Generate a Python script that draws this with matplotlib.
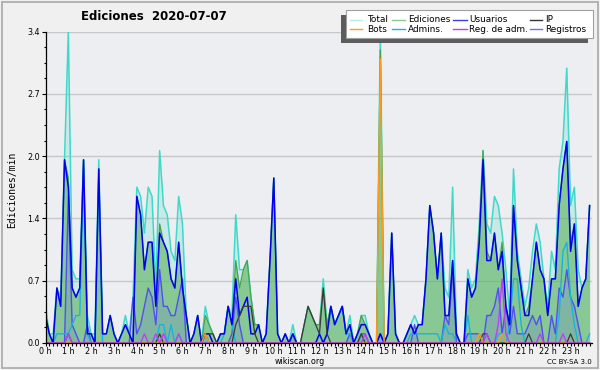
import numpy as np
import matplotlib.pyplot as plt
from matplotlib.lines import Line2D
from matplotlib.patches import Rectangle

# ediciones por minuto, intervalos de 10 min (6 por hora, 0 h .. 23 h 50)
total = [0.4, 0.1, 0.1, 0.6, 0.5, 2.0,  3.4, 0.8, 0.7, 0.7, 2.0, 0.3,
         0.1, 0.1, 2.0, 0.1, 0.1, 0.3,  0.1, 0.0, 0.1, 0.3, 0.1, 0.5,
         1.7, 1.6, 1.2, 1.7, 1.6, 0.6,  2.1, 1.5, 1.4, 1.0, 0.9, 1.6,
         1.3, 0.3, 0.0, 0.1, 0.3, 0.0,  0.4, 0.2, 0.1, 0.0, 0.1, 0.1,
         0.4, 0.3, 1.4, 0.8, 0.8, 0.9,  0.5, 0.2, 0.2, 0.0, 0.1, 0.9,
         1.8, 0.1, 0.0, 0.1, 0.0, 0.2,  0.0, 0.0, 0.2, 0.4, 0.3, 0.2,
         0.2, 0.7, 0.2, 0.4, 0.2, 0.3,  0.4, 0.1, 0.3, 0.0, 0.1, 0.3,
         0.3, 0.1, 0.0, 0.0, 3.4, 0.0,  0.1, 1.2, 0.1, 0.0, 0.0, 0.1,
         0.2, 0.3, 0.2, 0.2, 0.7, 1.5,  1.2, 0.7, 1.2, 0.6, 0.5, 1.7,
         0.1, 0.0, 0.0, 0.8, 0.6, 0.7,  1.3, 2.1, 1.3, 1.2, 1.6, 1.5,
         1.2, 0.8, 0.3, 1.9, 1.0, 0.7,  0.4, 0.6, 1.0, 1.3, 1.1, 0.7,
         0.4, 1.0, 0.8, 1.9, 2.2, 3.0,  1.5, 1.7, 0.8, 0.6, 0.7, 1.5]

ediciones = [0.3, 0.1, 0.0, 0.6, 0.4, 2.0,  1.8, 0.6, 0.5, 0.6, 2.0, 0.1,
             0.1, 0.0, 1.9, 0.1, 0.1, 0.3,  0.1, 0.0, 0.1, 0.2, 0.1, 0.0,
             1.6, 1.4, 0.8, 1.1, 1.1, 0.4,  1.3, 1.1, 1.0, 0.7, 0.6, 1.1,
             0.6, 0.3, 0.0, 0.1, 0.3, 0.0,  0.3, 0.2, 0.1, 0.0, 0.1, 0.1,
             0.4, 0.2, 0.9, 0.6, 0.8, 0.9,  0.5, 0.2, 0.2, 0.0, 0.1, 0.9,
             1.8, 0.1, 0.0, 0.1, 0.0, 0.1,  0.0, 0.0, 0.2, 0.4, 0.3, 0.2,
             0.2, 0.6, 0.2, 0.4, 0.2, 0.3,  0.4, 0.1, 0.2, 0.0, 0.1, 0.3,
             0.2, 0.1, 0.0, 0.0, 3.2, 0.0,  0.1, 1.2, 0.1, 0.0, 0.0, 0.1,
             0.2, 0.1, 0.2, 0.2, 0.7, 1.5,  1.2, 0.7, 1.2, 0.3, 0.3, 0.9,
             0.1, 0.0, 0.0, 0.7, 0.5, 0.6,  1.2, 2.1, 1.0, 0.9, 1.2, 0.8,
             1.1, 0.4, 0.2, 1.5, 0.9, 0.6,  0.3, 0.4, 0.7, 1.1, 0.8, 0.7,
             0.3, 0.7, 0.7, 1.5, 1.9, 2.2,  1.1, 1.3, 0.4, 0.6, 0.7, 1.5]

usuarios = [0.3, 0.1, 0.0, 0.6, 0.4, 2.0,  1.7, 0.6, 0.5, 0.6, 2.0, 0.1,
            0.1, 0.0, 1.9, 0.1, 0.1, 0.3,  0.1, 0.0, 0.1, 0.2, 0.1, 0.0,
            1.6, 1.4, 0.8, 1.1, 1.1, 0.4,  1.2, 1.1, 1.0, 0.7, 0.6, 1.1,
            0.6, 0.3, 0.0, 0.1, 0.3, 0.0,  0.1, 0.1, 0.0, 0.0, 0.1, 0.1,
            0.4, 0.2, 0.7, 0.3, 0.4, 0.5,  0.1, 0.1, 0.2, 0.0, 0.1, 0.9,
            1.8, 0.1, 0.0, 0.1, 0.0, 0.1,  0.0, 0.0, 0.0, 0.0, 0.0, 0.0,
            0.1, 0.0, 0.1, 0.4, 0.2, 0.3,  0.4, 0.1, 0.2, 0.0, 0.1, 0.2,
            0.2, 0.1, 0.0, 0.0, 0.1, 0.0,  0.1, 1.2, 0.1, 0.0, 0.0, 0.1,
            0.2, 0.1, 0.2, 0.2, 0.7, 1.5,  1.2, 0.7, 1.2, 0.3, 0.3, 0.9,
            0.1, 0.0, 0.0, 0.7, 0.5, 0.6,  1.1, 2.0, 0.9, 0.9, 1.2, 0.8,
            1.0, 0.4, 0.2, 1.5, 0.9, 0.6,  0.3, 0.3, 0.7, 1.1, 0.8, 0.7,
            0.3, 0.7, 0.7, 1.5, 1.9, 2.2,  1.0, 1.3, 0.4, 0.6, 0.7, 1.5]

ip = [0.0, 0.0, 0.0, 0.0, 0.0, 0.0,  0.1, 0.0, 0.0, 0.0, 0.0, 0.0,
      0.0, 0.0, 0.0, 0.0, 0.0, 0.0,  0.0, 0.0, 0.0, 0.0, 0.0, 0.0,
      0.0, 0.0, 0.0, 0.0, 0.0, 0.0,  0.1, 0.0, 0.0, 0.0, 0.0, 0.0,
      0.0, 0.0, 0.0, 0.0, 0.0, 0.0,  0.1, 0.1, 0.1, 0.0, 0.0, 0.0,
      0.0, 0.0, 0.2, 0.3, 0.4, 0.4,  0.4, 0.1, 0.0, 0.0, 0.0, 0.0,
      0.0, 0.0, 0.0, 0.0, 0.0, 0.0,  0.0, 0.0, 0.2, 0.4, 0.3, 0.2,
      0.1, 0.6, 0.1, 0.0, 0.0, 0.0,  0.0, 0.0, 0.0, 0.0, 0.0, 0.1,
      0.0, 0.0, 0.0, 0.0, 0.0, 0.0,  0.0, 0.0, 0.0, 0.0, 0.0, 0.0,
      0.0, 0.0, 0.0, 0.0, 0.0, 0.0,  0.0, 0.0, 0.0, 0.0, 0.0, 0.0,
      0.0, 0.0, 0.0, 0.0, 0.0, 0.0,  0.0, 0.1, 0.1, 0.0, 0.0, 0.0,
      0.0, 0.0, 0.0, 0.0, 0.0, 0.0,  0.0, 0.1, 0.0, 0.0, 0.0, 0.0,
      0.0, 0.0, 0.0, 0.0, 0.0, 0.0,  0.1, 0.0, 0.0, 0.0, 0.0, 0.0]

bots = [0.0] * 144
bots_nonzero = {42: 0.1, 88: 3.1, 114: 0.1, 120: 0.1}

admins = [0.0, 0.0, 0.0, 0.1, 0.1, 0.1,  0.1, 0.2, 0.3, 0.3, 1.9, 0.1,
          0.0, 0.0, 1.8, 0.0, 0.0, 0.0,  0.0, 0.0, 0.0, 0.0, 0.0, 0.0,
          0.0, 0.0, 0.0, 0.0, 0.0, 0.0,  0.2, 0.2, 0.0, 0.2, 0.0, 0.1,
          0.0, 0.0, 0.0, 0.0, 0.0, 0.0,  0.0, 0.0, 0.0, 0.0, 0.0, 0.1,
          0.4, 0.2, 0.0, 0.0, 0.0, 0.0,  0.0, 0.0, 0.0, 0.0, 0.0, 0.0,
          0.0, 0.0, 0.0, 0.0, 0.0, 0.0,  0.0, 0.0, 0.0, 0.0, 0.0, 0.0,
          0.0, 0.0, 0.1, 0.4, 0.2, 0.3,  0.4, 0.1, 0.1, 0.0, 0.0, 0.1,
          0.0, 0.0, 0.0, 0.0, 0.0, 0.0,  0.0, 0.0, 0.0, 0.0, 0.0, 0.0,
          0.1, 0.1, 0.1, 0.1, 0.1, 0.1,  0.1, 0.1, 0.0, 0.2, 0.1, 0.1,
          0.0, 0.0, 0.0, 0.3, 0.0, 0.0,  0.0, 0.0, 0.0, 0.0, 0.0, 0.1,
          0.1, 0.0, 0.2, 0.7, 0.7, 0.2,  0.0, 0.0, 0.0, 0.0, 0.0, 0.0,
          0.0, 0.0, 0.0, 0.3, 1.0, 1.1,  0.5, 0.2, 0.0, 0.0, 0.0, 0.1]

reg_adm = [0.0] * 144
reg_adm_nonzero = {6: 0.1, 26: 0.1, 29: 0.1, 31: 0.1, 35: 0.1, 84: 0.1,
                   116: 0.1, 119: 0.2, 120: 0.7, 121: 0.1, 130: 0.1, 136: 0.1}

registros = [0.0, 0.0, 0.0, 0.0, 0.0, 0.0,  1.6, 0.2, 0.1, 0.0, 0.0, 0.2,
             0.0, 0.0, 0.0, 0.0, 0.0, 0.0,  0.0, 0.0, 0.0, 0.0, 0.0, 0.5,
             0.1, 0.2, 0.4, 0.6, 0.5, 0.2,  0.8, 0.4, 0.4, 0.3, 0.3, 0.5,
             0.7, 0.0, 0.0, 0.0, 0.0, 0.0,  0.1, 0.0, 0.0, 0.0, 0.0, 0.0,
             0.0, 0.1, 0.5, 0.2, 0.0, 0.0,  0.0, 0.0, 0.0, 0.0, 0.0, 0.0,
             0.0, 0.0, 0.0, 0.0, 0.0, 0.1,  0.0, 0.0, 0.0, 0.0, 0.0, 0.0,
             0.0, 0.0, 0.0, 0.0, 0.0, 0.0,  0.0, 0.0, 0.1, 0.0, 0.0, 0.1,
             0.1, 0.0, 0.0, 0.0, 0.1, 0.0,  0.0, 0.0, 0.0, 0.0, 0.0, 0.0,
             0.0, 0.2, 0.0, 0.0, 0.0, 0.0,  0.0, 0.0, 0.0, 0.3, 0.2, 0.8,
             0.0, 0.0, 0.0, 0.1, 0.1, 0.1,  0.1, 0.0, 0.3, 0.3, 0.4, 0.6,
             0.1, 0.4, 0.1, 0.4, 0.1, 0.1,  0.1, 0.2, 0.3, 0.2, 0.3, 0.0,
             0.0, 0.3, 0.1, 0.6, 0.5, 0.8,  0.5, 0.4, 0.2, 0.0, 0.0, 0.0]

for k, v in bots_nonzero.items():
    bots[k] = v
for k, v in reg_adm_nonzero.items():
    reg_adm[k] = v

hour_labels = ['%d h' % h for h in range(24)]
legend_labels = ['Total', 'Ediciones', 'Usuarios', 'IP',
                 'Bots', 'Admins.', 'Reg. de adm.', 'Registros']
t = np.arange(144) / 6.0

W, H = 600, 370
def fx(x):
    return x / W
def fy(y):
    return 1 - y / H

fig = plt.figure(figsize=(6, 3.7), dpi=100, facecolor='#f0f0f0')
fig.patches.append(Rectangle((fx(2), fy(368)), fx(596), 366 / H, transform=fig.transFigure,
                             fill=False, edgecolor='#a8a8a8', lw=1.2))

ax = fig.add_axes([fx(45.5), fy(343), fx(591.5 - 45.5), (343 - 31.5) / H])
ax.set_facecolor('#eceef1')
ax.set_xlim(0, 143.5 / 6)
ax.set_ylim(0, 3.4)

c_total = '#3fd9c9'
c_edic = '#49a449'
c_usu = '#0000ee'
c_ip = '#3a3a3a'
c_bots = '#ff9a1a'
c_adm = '#1ab4d8'
c_regadm = '#c040f0'
c_reg = '#5050f0'

ax.fill_between(t, total, color=c_total, alpha=0.2, lw=0)
ax.fill_between(t, ediciones, color='#5db35d', alpha=0.6, lw=0)
ax.fill_between(t, registros, color='#6a7ad0', alpha=0.25, lw=0)
ax.plot(t, total, color=c_total, lw=1.1)
ax.plot(t, ediciones, color=c_edic, lw=0.9)
ax.plot(t, registros, color=c_reg, lw=1.0)
ax.plot(t, admins, color=c_adm, lw=1.0)
ax.plot(t, usuarios, color=c_usu, lw=1.1)
ax.plot(t, ip, color=c_ip, lw=0.9)
ax.plot(t, bots, color=c_bots, lw=1.0)
ax.plot(t, reg_adm, color=c_regadm, lw=1.0)

for s in ['top', 'right']:
    ax.spines[s].set_visible(False)
for s in ['left', 'bottom']:
    ax.spines[s].set_color('black')
    ax.spines[s].set_linewidth(0.9)

yt = np.linspace(0, 3.4, 6)
ax.set_yticks(yt)
ax.set_yticklabels(['%.1f' % v for v in yt])
ax.set_yticks(np.linspace(0, 3.4, 21), minor=True)
ax.set_xticks(range(24))
ax.set_xticklabels(hour_labels)
ax.set_xticks(np.arange(144) / 6.0, minor=True)
ax.yaxis.grid(True, which='major', color='#c8c8c8', lw=1.0)
ax.set_axisbelow(True)
ax.tick_params(axis='y', which='major', length=3, width=0.8, labelsize=5.8, pad=1)
ax.tick_params(axis='y', which='minor', length=1.7, width=0.8)
ax.tick_params(axis='x', which='both', length=2.3, width=0.8, labelsize=5.8, pad=0.8)

fig.text(fx(154), fy(16), 'Ediciones  2020-07-07', ha='center', va='center',
         fontsize=8.5, fontweight='bold')
fig.text(fx(12), fy(190), 'Ediciones/min', rotation=90, ha='center', va='center',
         fontsize=7, family='DejaVu Sans Mono')
fig.text(fx(300), fy(361.5), 'wikiscan.org', ha='center', va='center', fontsize=5.8)
fig.text(fx(569), fy(362), 'CC BY-SA 3.0', ha='center', va='center', fontsize=5)

# leyenda dibujada a mano: caja con sombra y 2 filas de 4 entradas
fig.patches.append(Rectangle((fx(341), fy(43)), fx(247), 28 / H, transform=fig.transFigure,
                             facecolor='#5c5c5c', edgecolor='none', zorder=5))
fig.patches.append(Rectangle((fx(346), fy(38)), fx(247), 28 / H, transform=fig.transFigure,
                             facecolor='white', edgecolor='#a0a0a0', lw=0.8, zorder=6))
leg_colors = ['#b5ecec', '#88cc88', '#3d3de0', '#333333',
              c_bots, c_adm, c_regadm, '#7070f0']
line_x = [(350, 362), (392, 405), (453, 467), (530, 542)]
text_x = [367, 408, 469, 545]
row_y = [19.5, 29]
for i, lab in enumerate(legend_labels):
    r, c = divmod(i, 4)
    x0, x1 = line_x[c]
    fig.lines.append(Line2D([fx(x0), fx(x1)], [fy(row_y[r]), fy(row_y[r])],
                            transform=fig.transFigure, color=leg_colors[i], lw=1.0, zorder=7))
    fig.text(fx(text_x[c]), fy(row_y[r]), lab, ha='left', va='center',
             fontsize=6.4, zorder=8)

fig.savefig('out.png', dpi=100, facecolor=fig.get_facecolor())
